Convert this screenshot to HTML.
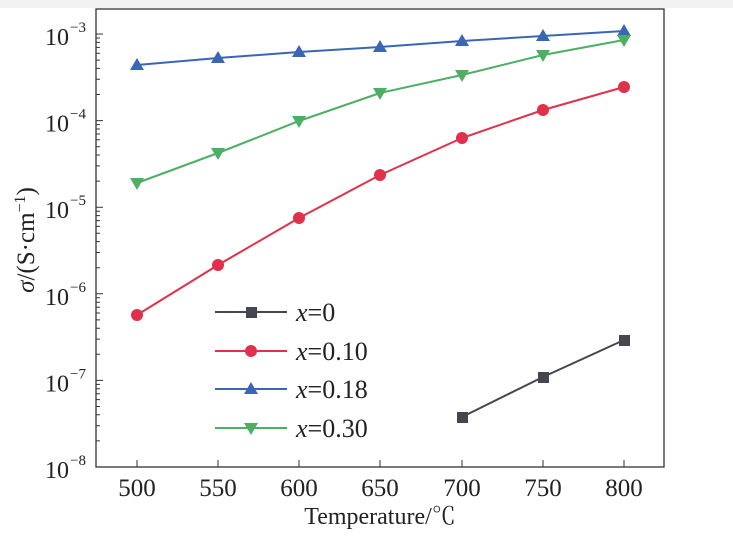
<!DOCTYPE html>
<html><head><meta charset="utf-8"><style>
html,body{margin:0;padding:0;background:#fff;}
svg{display:block;}
text{font-family:"Liberation Serif","Noto Serif CJK SC",serif;fill:#222;}
</style></head><body>
<svg width="733" height="537" viewBox="0 0 733 537" xmlns="http://www.w3.org/2000/svg">
<rect x="0" y="0" width="733" height="8" fill="#f2f2f2"/>
<rect x="96" y="9" width="568" height="458" fill="none" stroke="#333" stroke-width="1.3"/>
<g stroke="#333" stroke-width="1">
<path d="M137,467v-7M218,467v-7M299,467v-7M380,467v-7M462,467v-7M543,467v-7M624,467v-7"/>
<path d="M96,34h7M96,120.6h7M96,207.2h7M96,293.8h7M96,380.4h7"/>
<g id="m">
<path d="M96,94.5h4M96,79.3h4M96,68.4h4M96,60.1h4M96,53.2h4M96,47.4h4M96,42.4h4M96,38h4"/>
</g>
<use href="#m" y="86.6"/><use href="#m" y="173.2"/><use href="#m" y="259.8"/><use href="#m" y="346.4"/>
</g>
<g font-size="25" text-anchor="middle">
<text x="137" y="496">500</text><text x="218" y="496">550</text><text x="299" y="496">600</text><text x="380" y="496">650</text><text x="462" y="496">700</text><text x="543" y="496">750</text><text x="624" y="496">800</text>
</g>
<g font-size="24" text-anchor="end">
<text x="69" y="45">10</text><text x="69" y="131.6">10</text><text x="69" y="218.2">10</text><text x="69" y="304.8">10</text><text x="69" y="391.4">10</text><text x="69" y="478">10</text>
</g>
<g font-size="15">
<text x="70" y="32">−3</text><text x="70" y="118.6">−4</text><text x="70" y="205.2">−5</text><text x="70" y="291.8">−6</text><text x="70" y="378.4">−7</text><text x="70" y="465">−8</text>
</g>
<text x="380" y="524" font-size="24" text-anchor="middle">Temperature/℃</text>
<text transform="translate(34,240) rotate(-90)" font-size="25" text-anchor="middle"><tspan font-style="italic">σ</tspan>/(S·cm<tspan font-size="16" dy="-9">−1</tspan><tspan dy="9">)</tspan></text>
<polyline points="137,65 218,58 299,52 380,47 462,41 543,36 624,31" fill="none" stroke="#3a66b5" stroke-width="2"/>
<polyline points="137,183 218,153 299,121 380,93 462,75 543,55 624,40" fill="none" stroke="#4caf64" stroke-width="2"/>
<polyline points="137,315 218,265 299,218 380,175 462,138 543,110 624,87" fill="none" stroke="#e0304a" stroke-width="2"/>
<polyline points="462,417 543,377 624,340" fill="none" stroke="#444650" stroke-width="2"/>
<g fill="#3a66b5">
<path d="M137,58 l7,12 h-14z"/><path d="M218,51 l7,12 h-14z"/><path d="M299,45 l7,12 h-14z"/><path d="M380,40 l7,12 h-14z"/><path d="M462,34 l7,12 h-14z"/><path d="M543,29 l7,12 h-14z"/><path d="M624,24 l7,12 h-14z"/>
</g>
<g fill="#4caf64">
<path d="M137,190 l7,-12 h-14z"/><path d="M218,160 l7,-12 h-14z"/><path d="M299,128 l7,-12 h-14z"/><path d="M380,100 l7,-12 h-14z"/><path d="M462,82 l7,-12 h-14z"/><path d="M543,62 l7,-12 h-14z"/><path d="M624,47 l7,-12 h-14z"/>
</g>
<g fill="#e0304a">
<circle cx="137" cy="315" r="6"/><circle cx="218" cy="265" r="6"/><circle cx="299" cy="218" r="6"/><circle cx="380" cy="175" r="6"/><circle cx="462" cy="138" r="6"/><circle cx="543" cy="110" r="6"/><circle cx="624" cy="87" r="6"/>
</g>
<g fill="#444650">
<rect x="457" y="412" width="11" height="11"/><rect x="538" y="372" width="11" height="11"/><rect x="619" y="335" width="11" height="11"/>
</g>
<line x1="215" y1="312" x2="287" y2="312" stroke="#444650" stroke-width="2"/><rect x="246" y="307" width="11" height="11" fill="#444650"/>
<line x1="215" y1="351" x2="287" y2="351" stroke="#e0304a" stroke-width="2"/><circle cx="251" cy="351" r="6" fill="#e0304a"/>
<line x1="215" y1="389" x2="287" y2="389" stroke="#3a66b5" stroke-width="2"/><path d="M251,382 l7,12 h-14z" fill="#3a66b5"/>
<line x1="215" y1="428" x2="287" y2="428" stroke="#4caf64" stroke-width="2"/><path d="M251,435 l7,-12 h-14z" fill="#4caf64"/>
<g font-size="26">
<text x="296" y="321"><tspan font-style="italic">x</tspan>=0</text>
<text x="296" y="360"><tspan font-style="italic">x</tspan>=0.10</text>
<text x="296" y="398"><tspan font-style="italic">x</tspan>=0.18</text>
<text x="296" y="437"><tspan font-style="italic">x</tspan>=0.30</text>
</g>
</svg>
</body></html>
